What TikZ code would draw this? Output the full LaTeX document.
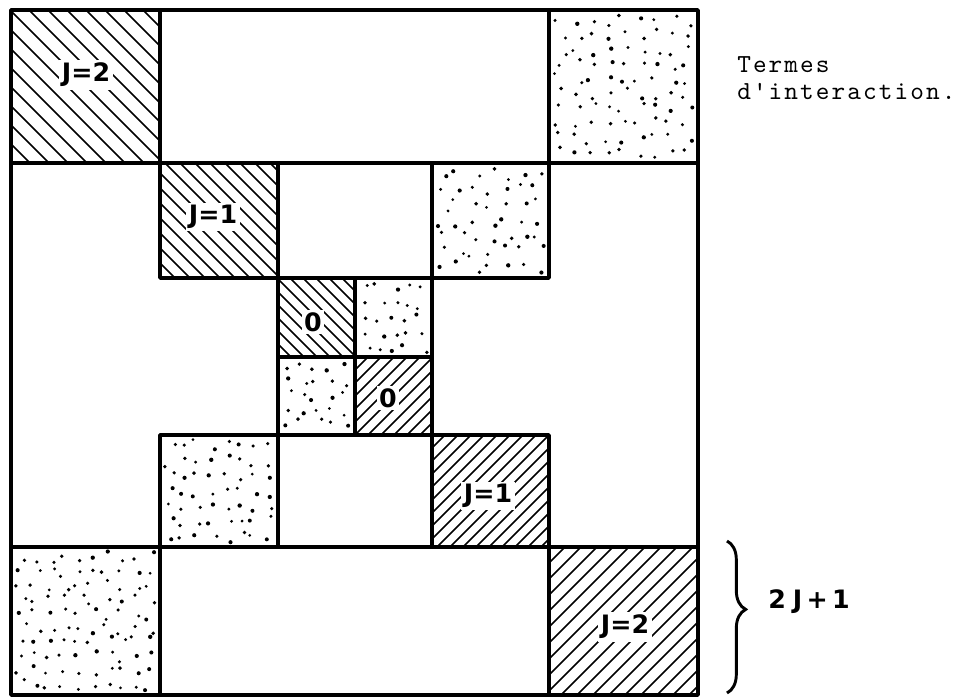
\documentclass[tikz,border=0pt]{standalone}
\usepackage{fontspec}
\newfontfamily\labfont{DejaVu Sans}
\newfontfamily\typefont{lmmono10-regular.otf}[LetterSpace=8]
\usetikzlibrary{decorations.pathreplacing}
\tikzset{
  frameline/.style={line width=2.6pt, line cap=round, line join=round},
  hatchline/.style={line width=1.15pt},
  lab/.style={font=\labfont\bfseries\fontsize{19}{19}\selectfont, fill=white, inner sep=2pt},
  sidelab/.style={font=\labfont\bfseries\fontsize{19}{19}\selectfont, inner sep=0pt},
  typetext/.style={font=\typefont\fontsize{19.5}{20.25}\selectfont, inner sep=0pt, align=left, anchor=north west},
  bracestyle/.style={line width=2.2pt, decorate, decoration={brace, amplitude=14pt, aspect=0.45}}
}
% hatch "\" : x1 y1 x2 y2 spacing
\newcommand\hatchNW[5]{%
  \begin{scope}
    \clip (#1,#2) rectangle (#3,#4);
    \pgfmathsetmacro\myh{#4-#2}
    \pgfmathtruncatemacro\myn{(#3-#1+\myh)/#5+1}
    \foreach \i in {0,...,\myn} {
      \pgfmathsetmacro\myt{#1-\myh+\i*#5}
      \draw[hatchline] (\myt,#2) -- ++(\myh,\myh);
    }
  \end{scope}}
% hatch "/" : x1 y1 x2 y2 spacing
\newcommand\hatchNE[5]{%
  \begin{scope}
    \clip (#1,#2) rectangle (#3,#4);
    \pgfmathsetmacro\myh{#4-#2}
    \pgfmathtruncatemacro\myn{(#3-#1+\myh)/#5+1}
    \foreach \i in {0,...,\myn} {
      \pgfmathsetmacro\myt{#1-\myh+\i*#5}
      \draw[hatchline] (\myt,#4) -- ++(\myh,-\myh);
    }
  \end{scope}}
% stipple on a jittered grid: x1 y1 x2 y2 cell
\newcommand\stipple[5]{%
  \pgfmathtruncatemacro\snx{(#3-#1-6)/#5}
  \pgfmathtruncatemacro\sny{(#4-#2-6)/#5}
  \pgfmathsetmacro\scw{(#3-#1-6)/\snx}
  \pgfmathsetmacro\sch{(#4-#2-6)/\sny}
  \foreach \i in {1,...,\snx} {
    \foreach \j in {1,...,\sny} {
      \pgfmathsetmacro\dx{#1+3+(\i-0.9+0.8*rnd)*\scw}
      \pgfmathsetmacro\dy{#2+3+(\j-0.9+0.8*rnd)*\sch}
      \pgfmathsetmacro\dr{1.5+0.7*rnd}
      \fill (\dx,\dy) circle[radius=\dr];
    }
  }}
\begin{document}
\begin{tikzpicture}[x=0.75pt,y=-0.75pt]
\useasboundingbox (0,0) rectangle (972,699);
\pgfmathsetseed{1234}
% hatched blocks
\hatchNW{11}{10}{160}{163}{19}
\hatchNW{160}{163}{278}{278}{15}
\hatchNW{278}{278}{355}{357}{13}
\hatchNE{355}{357}{432}{435}{13}
\hatchNE{432}{435}{549}{547}{13}
\hatchNE{549}{547}{698}{695}{16}
% stippled blocks
\stipple{549}{10}{698}{163}{14.5}
\stipple{432}{163}{549}{278}{14}
\stipple{355}{278}{432}{357}{13.5}
\stipple{278}{357}{355}{435}{12.5}
\stipple{160}{435}{278}{547}{13.5}
\stipple{11}{547}{160}{695}{14}
% labels
\node[lab] (j2a) at (86,75) {J=2};
\node[lab] (j1a) at (213,217) {J=1};
\node[lab] (z1) at (313,322) {0};
\node[lab] (z2) at (388,398) {0};
\node[lab] (j1b) at (488,496) {J=1};
\node[lab] (j2b) at (625,627) {J=2};
% frame and block outlines
\draw[frameline] (11,10) rectangle (698,695);
\draw[frameline] (11,163) -- (698,163);
\draw[frameline] (11,547) -- (698,547);
\draw[frameline] (160,10) -- (160,163);
\draw[frameline] (549,10) -- (549,163);
\draw[frameline] (160,547) -- (160,695);
\draw[frameline] (549,547) -- (549,695);
\draw[frameline] (160,163) rectangle (278,278);
\draw[frameline] (432,163) rectangle (549,278);
\draw[frameline] (278,278) rectangle (432,435);
\draw[frameline] (355,278) -- (355,435);
\draw[frameline] (278,357) -- (432,357);
\draw[frameline] (160,435) rectangle (278,547);
\draw[frameline] (432,435) rectangle (549,547);
% side text
\node[typetext] (terms) at (737,56) {Termes\\d'interaction.};
% brace
\coordinate (bt) at (727,541);
\coordinate (bb) at (727,693);
\draw[bracestyle] (bt) -- (bb);
\node[sidelab, anchor=west] (dim) at (768,602) {2\;J\,+\,1};
\end{tikzpicture}
\end{document}
